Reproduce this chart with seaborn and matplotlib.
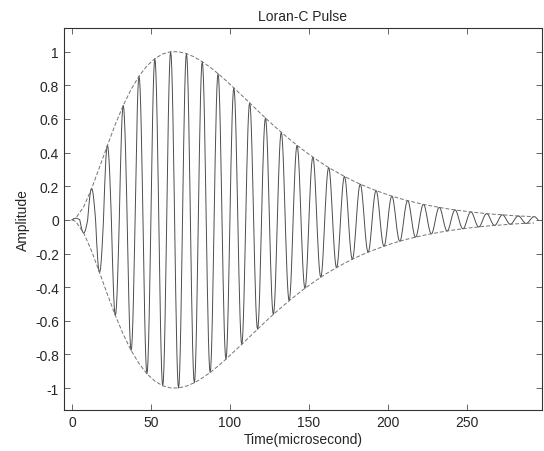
# Loran-C pulse: carrier oscillation inside its envelope
import numpy as np
import pandas as pd
import matplotlib
matplotlib.use("Agg")
import matplotlib.pyplot as plt
import seaborn as sns

# half-cycle length in microseconds (100 kHz carrier)
half_period = 5.0
# peak amplitude of each half-cycle (t = 2.5, 7.5, ... 292.5 us)
peak_amps = [0.010, 0.078, 0.186, 0.313, 0.443, 0.568, 0.680, 0.776, 0.854, 0.915,
             0.958, 0.986, 0.999, 0.999, 0.988, 0.968, 0.940, 0.907, 0.869, 0.828,
             0.784, 0.740, 0.695, 0.650, 0.605, 0.562, 0.521, 0.481, 0.443, 0.407,
             0.373, 0.341, 0.311, 0.284, 0.258, 0.234, 0.212, 0.192, 0.174, 0.157,
             0.141, 0.127, 0.114, 0.103, 0.092, 0.083, 0.074, 0.066, 0.059, 0.053,
             0.047, 0.042, 0.037, 0.033, 0.030, 0.026, 0.023, 0.021, 0.019]
x_ticks = [0, 50, 100, 150, 200, 250]
y_ticks = [-1, -0.8, -0.6, -0.4, -0.2, 0, 0.2, 0.4, 0.6, 0.8, 1]
y_labels = ["-1", "-0.8", "-0.6", "-0.4", "-0.2", "0", "0.2", "0.4", "0.6", "0.8", "1"]

# carrier: one sine-shaped lobe per half cycle, sign alternating
lobe = np.linspace(0, 1, 15)
t_all, y_all = [], []
for k, a in enumerate(peak_amps):
    sign = 1 if k % 2 == 0 else -1
    t_all.extend(k * half_period + lobe * half_period)
    y_all.extend(sign * a * np.sin(np.pi * lobe))
carrier = pd.DataFrame({"t": t_all, "y": y_all})

# envelope through the half-cycle peaks
t_peaks = [0.0] + [k * half_period + half_period / 2 for k in range(len(peak_amps))]
env = pd.DataFrame({"t": t_peaks, "up": [0.0] + peak_amps})
env["down"] = -env["up"]

sns.set_style("ticks")
plt.rcParams["font.family"] = ["Liberation Sans", "DejaVu Sans"]

fig = plt.figure(figsize=(5.44, 4.52), dpi=100)
ax = fig.add_axes([0.1176, 0.0907, 0.8787, 0.8451])

sns.lineplot(data=carrier, x="t", y="y", ax=ax, sort=False, estimator=None,
             color="0.3", linewidth=0.7)
sns.lineplot(data=env, x="t", y="up", ax=ax, sort=False, estimator=None,
             color="0.45", linewidth=0.7, dashes=False)
sns.lineplot(data=env, x="t", y="down", ax=ax, sort=False, estimator=None,
             color="0.45", linewidth=0.7)
for ln in ax.lines[1:]:
    ln.set_dashes((4, 2))

ax.set_xlim(-5, 297.5)
ax.set_ylim(-1.13, 1.14)
ax.set_xticks(x_ticks)
ax.set_yticks(y_ticks)
ax.set_yticklabels(y_labels)
ax.tick_params(direction="in", top=True, right=True, length=4, labelsize=10,
               width=0.6, color="0.3")
for s in ax.spines.values():
    s.set_linewidth(0.8)
    s.set_color("0.2")
ax.set_xlabel("Time(microsecond)", fontsize=10, labelpad=2)
ax.set_ylabel("Amplitude", fontsize=10, labelpad=4)
ax.set_title("Loran-C Pulse", fontsize=10, pad=6)

fig.savefig("out.png", dpi=100)
